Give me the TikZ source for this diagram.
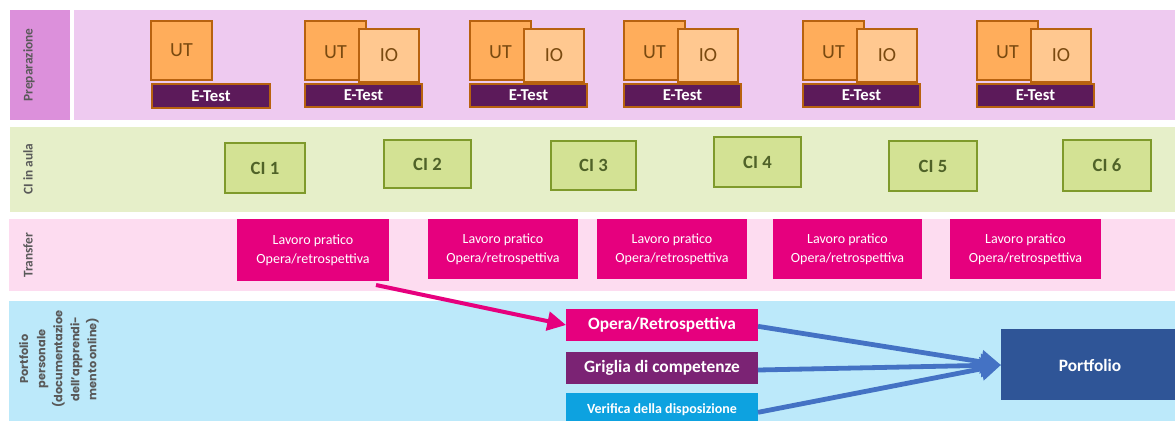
\documentclass[tikz,border=0pt]{standalone}
\usepackage{fontspec}
\setmainfont{Carlito}
\newfontfamily\sidefont{Poppins}
\usetikzlibrary{fit,arrows.meta}

\definecolor{prepLab}{HTML}{DC90DB}
\definecolor{prepBand}{HTML}{EECAF0}
\definecolor{ciBand}{HTML}{E6EFC9}
\definecolor{trBand}{HTML}{FDDCF0}
\definecolor{pfBand}{HTML}{BCE9FA}
\definecolor{utFill}{HTML}{FFAD5B}
\definecolor{ioFill}{HTML}{FFC890}
\definecolor{orEdge}{HTML}{B8620F}
\definecolor{utText}{HTML}{7A4A10}
\definecolor{etFill}{HTML}{5C1A5A}
\definecolor{ciFill}{HTML}{D3E294}
\definecolor{ciEdge}{HTML}{7F9A2B}
\definecolor{ciText}{HTML}{4F6228}
\definecolor{magenta}{HTML}{E6007E}
\definecolor{grPurple}{HTML}{7B2374}
\definecolor{vfBlue}{HTML}{0DA2E0}
\definecolor{pfDark}{HTML}{2F5597}
\definecolor{arBlue}{HTML}{4472C4}
\definecolor{labGray}{HTML}{595959}

\tikzset{
  box/.style={inner sep=0pt, outer sep=0pt},
  sidelab/.style={rotate=90, text=labGray, font=\bfseries\fontsize{10}{12}\selectfont},
  utbox/.style={box, draw=orEdge, line width=1.6pt, fill=utFill},
  iobox/.style={box, draw=orEdge, line width=1.6pt, fill=ioFill},
  etbox/.style={box, draw=orEdge, line width=1.6pt, fill=etFill},
  cibox/.style={box, draw=ciEdge, line width=1.8pt, fill=ciFill},
  trbox/.style={box, fill=magenta},
  pfbox/.style={box},
  uttext/.style={text=utText, font=\fontsize{15}{17}\selectfont},
  ettext/.style={text=white, font=\bfseries\fontsize{12.5}{14}\selectfont},
  citext/.style={text=ciText, font=\bfseries\fontsize{14}{16}\selectfont},
  trtext/.style={text=white, align=center, font=\fontsize{10.5}{14}\selectfont},
  pftext/.style={text=white, font=\bfseries\fontsize{13}{15}\selectfont},
  magarrow/.style={draw=magenta, line width=3pt, -{Triangle[length=14pt,width=14pt]}},
  bluearrow/.style={draw=arBlue, line width=3.6pt, -{Triangle[length=15pt,width=17pt]}},
}

\begin{document}
\begin{tikzpicture}[x=0.75pt,y=-0.75pt]
\useasboundingbox (0,0) rectangle (1175,421);
\fill[white] (0,0) rectangle (1175,421);

% swim lanes
\fill[prepLab] (10,10) rectangle (70,120);
\fill[prepBand] (74,10) rectangle (1175,120);
\fill[ciBand] (10,127) rectangle (1175,212);
\fill[trBand] (9,219) rectangle (1175,291);
\fill[pfBand] (9,301) rectangle (1175,421);

% lane titles
\node[sidelab] (lprep) at (29,65) {Preparazione};
\node[sidelab] (lci) at (28,169) {CI in aula};
\node[sidelab] (ltr) at (28,255) {Transfer};
\node[rotate=90, text=labGray, align=center,
      font=\sidefont\bfseries\fontsize{8.5}{12.8}\selectfont] (lpf) at (59,359)
  {Portfolio\\personale\\(documentazioe\\dell’apprendi-\\mento online)};

% preparation: self study, input and e-tests
\node[utbox, fit={(151,21) (212,80)}] (ut1) {};
\node[uttext] at (ut1.center) {UT};
\node[etbox, fit={(152,84) (270,108)}] (et1) {};
\node[ettext] at (et1.center) {E-Test};

\foreach \i/\x in {2/305, 3/470, 4/624, 5/803, 6/977}{
  \node[utbox, fit={(\x,21) (\x+61,80)}] (ut\i) {};
  \node[uttext] at ([yshift=-1pt]ut\i.center) {UT};
  \node[iobox, fit={(\x+54,29) (\x+114,82)}] (io\i) {};
  \node[uttext] at (io\i.center) {IO};
  \node[etbox, fit={(\x,84) (\x+117,107)}] (et\i) {};
  \node[ettext] at (et\i.center) {E-Test};
}

% classroom sessions
\foreach \i/\xa/\ya/\xb/\yb in {1/225/143/305/193, 2/384/140/471/188, 3/551/141/636/190,
                                 4/714/137/801/187, 5/889/141/977/191, 6/1063/140/1151/191}{
  \node[cibox, fit={(\xa,\ya) (\xb,\yb)}] (ci\i) {};
  \node[citext] at (ci\i.center) {CI \i};
}

% transfer work
\foreach \i/\xa/\xb/\yb in {1/237/389/281, 2/428/578/279, 3/597/747/279, 4/773/922/279, 5/950/1101/279}{
  \node[trbox, fit={(\xa,219) (\xb,\yb)}] (tr\i) {};
  \node[trtext] at (tr\i.center) {Lavoro pratico\\Opera/retrospettiva};
}

% personal portfolio
\node[pfbox, fill=magenta, fit={(566,309) (758,341)}] (opera) {};
\node[pftext] at (opera.center) {Opera/Retrospettiva};
\node[pfbox, fill=grPurple, fit={(566,352) (758,384)}] (griglia) {};
\node[pftext] at (griglia.center) {Griglia di competenze};
\node[pfbox, fill=vfBlue, fit={(566,393) (758,421)}] (verifica) {};
\node[text=white, font=\bfseries\fontsize{10.5}{12}\selectfont] at ([yshift=-2pt]verifica.center) {Verifica della disposizione};
\node[pfbox, fill=pfDark, fit={(1001,329) (1175,400)}] (portfolio) {};
\node[pftext] at (1090,365) {Portfolio};

% connectors
\coordinate (trout) at (376,285);
\draw[magarrow] (trout) -- (opera.west);
\coordinate (pfin) at (1001,365);
\draw[bluearrow] ([yshift=-1pt]opera.east) -- (pfin);
\draw[bluearrow] ([yshift=-1.5pt]griglia.east) -- (pfin);
\draw[bluearrow] ([yshift=-4pt]verifica.east) -- (pfin);
\end{tikzpicture}
\end{document}
